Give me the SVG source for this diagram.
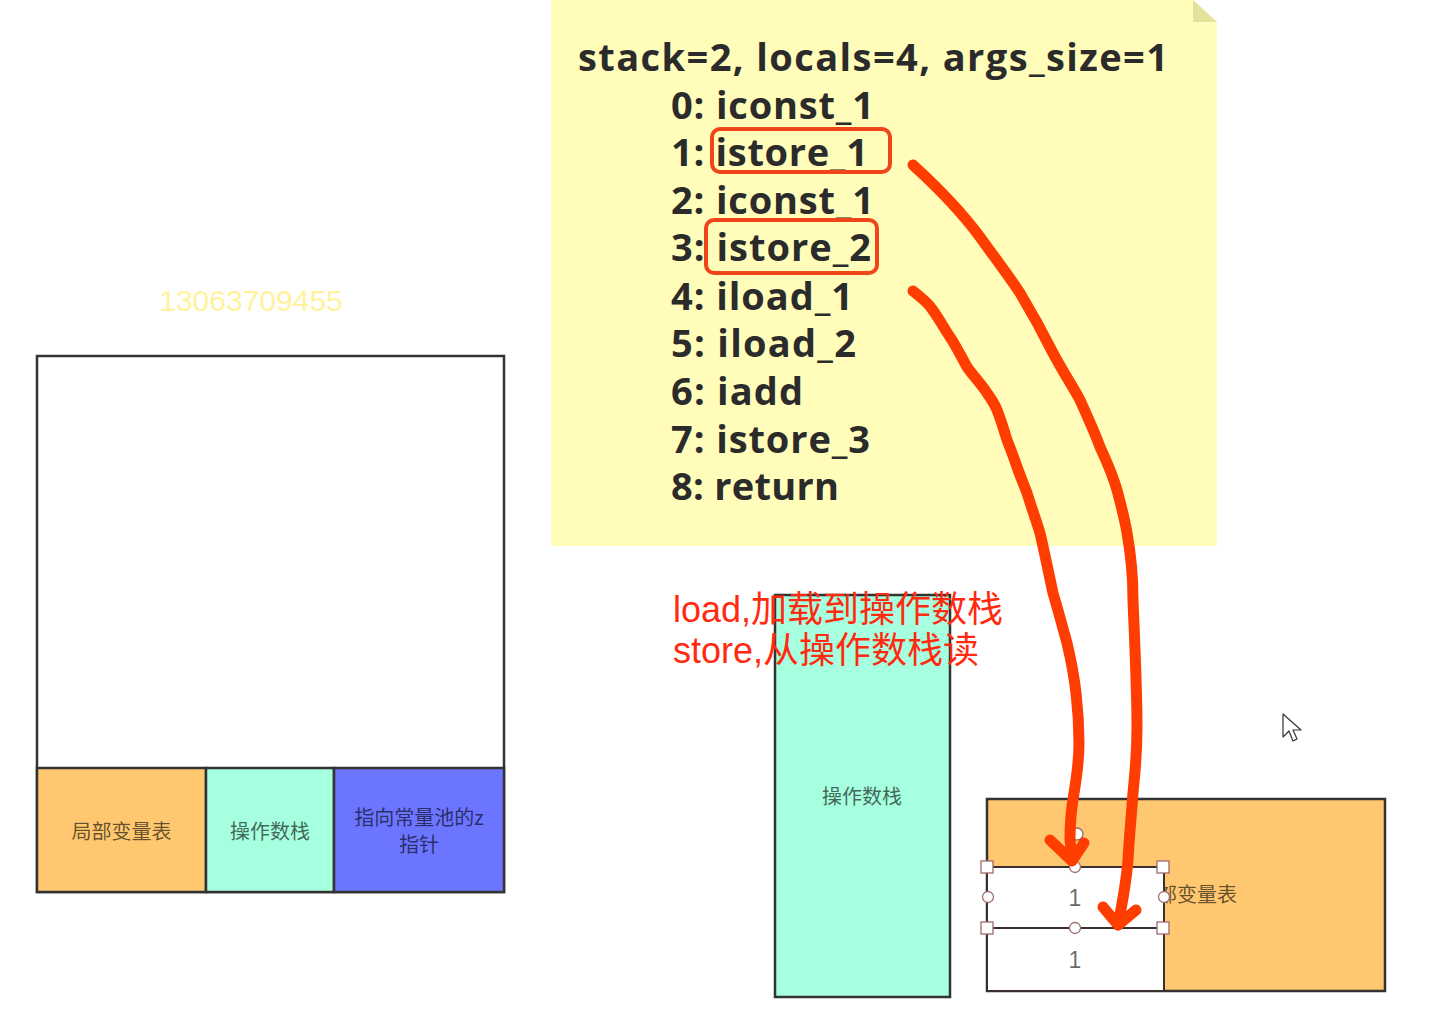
<svg xmlns="http://www.w3.org/2000/svg" width="1432" height="1020" viewBox="0 0 1432 1020">
<style>
.code{font-family:"Open Sans","Noto Sans",sans-serif;font-weight:700;font-size:38px;fill:#2b2b2b}
.lbl{font-family:"Noto Sans CJK SC","Noto Sans",sans-serif;font-size:20px;fill:#000;fill-opacity:0.62;text-anchor:middle}
.num{font-family:"Liberation Sans",sans-serif;font-size:23px;fill:#000;fill-opacity:0.6;text-anchor:middle}
.box{stroke:#333;stroke-width:2.5}
.cell{fill:#fff;stroke:#3a3030;stroke-width:2}
.hs{fill:#fff;stroke:#9b6b6b;stroke-width:1.3}
.red{font-family:"Liberation Sans","Noto Sans CJK SC",sans-serif;font-size:36px;fill:#ff2a10}
.hl{fill:none;stroke:#f0441a;stroke-width:4}
.arr{fill:none;stroke:#ff3d00;stroke-width:11;stroke-linecap:round;stroke-linejoin:round}
</style>
<rect width="1432" height="1020" fill="#fff"/>

<g id="bytecode-note">
  <polygon points="551,0 1193,0 1217,22 1217,546 551,546" fill="#fffdb9"/>
  <polygon points="1193,0 1193,22 1217,22" fill="#e6e29c"/>
  <text class="code" x="578" y="71" textLength="590" lengthAdjust="spacing">stack=2, locals=4, args_size=1</text>
  <text class="code" x="671" y="118.5" textLength="203" lengthAdjust="spacing">0: iconst_1</text>
  <text class="code" x="671" y="166" textLength="197" lengthAdjust="spacing">1: istore_1</text>
  <text class="code" x="671" y="213.5" textLength="203" lengthAdjust="spacing">2: iconst_1</text>
  <text class="code" x="671" y="261" textLength="200" lengthAdjust="spacing">3: istore_2</text>
  <text class="code" x="671" y="309.5" textLength="182" lengthAdjust="spacing">4: iload_1</text>
  <text class="code" x="671" y="357" textLength="185" lengthAdjust="spacing">5: iload_2</text>
  <text class="code" x="671" y="405" textLength="132" lengthAdjust="spacing">6: iadd</text>
  <text class="code" x="671" y="452.5" textLength="199" lengthAdjust="spacing">7: istore_3</text>
  <text class="code" x="671" y="500" textLength="168" lengthAdjust="spacing">8: return</text>
  <rect class="hl" x="712" y="129" width="178" height="43" rx="8"/>
  <rect class="hl" x="706" y="220" width="171" height="53" rx="8"/>
</g>

<text x="251" y="311" font-family="Liberation Sans, sans-serif" font-size="30" fill="#fff29c" text-anchor="middle">13063709455</text>

<g id="stack-frame">
  <rect class="box" x="37" y="356" width="467" height="536" fill="#fff"/>
  <g id="frame-local-vars">
    <rect class="box" x="37" y="768" width="169" height="124" fill="#ffc870"/>
    <text class="lbl" x="121.5" y="839">局部变量表</text>
  </g>
  <g id="frame-operand-stack">
    <rect class="box" x="206" y="768" width="128" height="124" fill="#a6ffdf"/>
    <text class="lbl" x="270" y="839">操作数栈</text>
  </g>
  <g id="frame-const-pool">
    <rect class="box" x="334" y="768" width="170" height="124" fill="#6c75ff"/>
    <text class="lbl" x="419" y="825">指向常量池的z</text>
    <text class="lbl" x="419" y="852">指针</text>
  </g>
</g>

<g id="operand-stack">
  <rect class="box" x="775" y="595" width="175" height="402" fill="#a6ffdf"/>
  <text class="lbl" x="862" y="804">操作数栈</text>
</g>

<g id="note-text">
  <text class="red" x="673" y="622">load,加载到操作数栈</text>
  <text class="red" x="673" y="663">store,从操作数栈读</text>
</g>

<g id="local-var-table">
  <rect class="box" x="987" y="799" width="398" height="192" fill="#ffc870"/>
  <text class="lbl" x="1187" y="902">局部变量表</text>
  <rect class="cell" x="987" y="867" width="177" height="61"/>
  <rect class="cell" x="987" y="928" width="177" height="63"/>
  <text class="num" x="1075" y="906">1</text>
  <text class="num" x="1075" y="968">1</text>
  <circle class="hs" cx="1077" cy="834" r="6"/>
  <rect class="hs" x="981" y="861" width="12" height="12"/>
  <rect class="hs" x="1157" y="861" width="12" height="12"/>
  <rect class="hs" x="981" y="922" width="12" height="12"/>
  <rect class="hs" x="1157" y="922" width="12" height="12"/>
  <circle class="hs" cx="1075" cy="867" r="5.5"/>
  <circle class="hs" cx="1075" cy="928" r="5.5"/>
  <circle class="hs" cx="988" cy="897" r="5.5"/>
  <circle class="hs" cx="1164" cy="897" r="5.5"/>
</g>

<g id="connectors">
  <path class="arr" d="M913,165 C935,185 960,210 980,237 C995,258 1008,275 1020,293 C1032,313 1043,333 1053,353 C1063,372 1072,385 1080,400 C1088,418 1095,433 1100,447 C1107,462 1113,476 1117,490 C1121,505 1125,520 1127,533 C1131,555 1133,575 1133,600 C1135,650 1137,690 1137,727 C1137,760 1134,780 1133,793 C1131,820 1129,840 1128,860 C1126,885 1122,905 1118,925"/>
  <path class="arr" d="M1103,907 L1118,925 L1136,910"/>
  <path class="arr" d="M913,291 C922,298 928,303 932,309 C940,320 945,330 952,340 C958,350 962,358 967,367 C975,378 982,385 987,393 C992,400 995,405 997,410 C1001,420 1004,430 1007,440 C1011,450 1014,458 1017,467 C1021,478 1024,485 1027,493 C1031,506 1036,520 1040,533 C1044,550 1048,570 1053,593 C1058,610 1062,625 1067,643 C1071,660 1074,675 1076,693 C1078,710 1079,725 1079,743 C1079,760 1077,775 1074,793 C1071,810 1070,825 1070,840 C1071,850 1072,855 1072,860"/>
  <path class="arr" d="M1050,840 L1072,861 L1084,843"/>
</g>

<path d="M1283,714 L1283,737 L1289,731 L1293,741 L1297,739 L1293,730 L1301,730 Z" fill="#fff" stroke="#333" stroke-width="1.2" stroke-linejoin="round"/>
</svg>
